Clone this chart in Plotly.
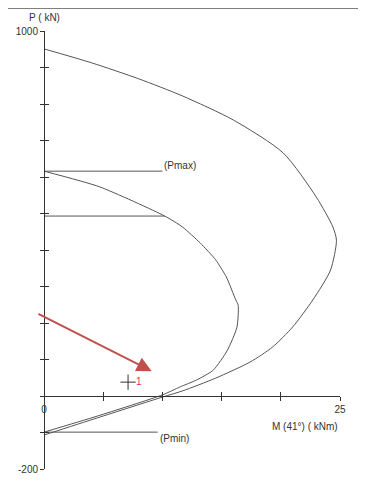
import plotly.graph_objects as go

# interaction diagram, M in kNm, P in kN
outer_m = [0, 4, 8, 11.7, 16, 20.2, 23, 24.4, 24.7, 24.2, 22.7, 21, 19.3, 17.4, 14.5, 11.7, 10, 4.5, 0]
outer_p = [951, 913, 869, 822, 756, 666, 545, 463, 427, 345, 263, 189, 134, 93, 49, 14, -3, -60, -107]

inner_m = [0, 4.7, 10.2, 11.7, 13.2, 14.5, 15.4, 16.2, 16.4, 16.3, 15.5, 14.3, 12.9, 11.5, 10, 4.5, 0]
inner_p = [616, 573, 493, 463, 419, 373, 326, 263, 249, 189, 126, 71, 44, 25, 3, -55, -99]

# horizontal limit lines: (level, end moment, label)
limit_p = [616, 493, -99]
limit_m = [10.0, 10.2, 9.6]
limit_lbl = ["(Pmax)", "", "(Pmin)"]
limit_shift = [6, 0, -6]

# load point
load_m = [7.1]
load_p = [38]
load_lbl = ["1"]

# arrow pointing at the load point
arrow_tail = (-0.6, 227)
arrow_head = (9.1, 68)

x_ticks = [0, 5, 10, 15, 20, 25]
x_text = ["0", "", "", "", "", "25"]
y_ticks = list(range(-200, 1001, 100))
y_text = ["-200"] + [""] * 11 + ["1000"]

LINE = "#555555"
AXIS = "#333333"
FONT = "Liberation Sans, Arial, sans-serif"

fig = go.Figure()

fig.add_trace(go.Scatter(x=outer_m, y=outer_p, mode="lines",
                         line=dict(color=LINE, width=1, shape="spline", smoothing=0.7),
                         showlegend=False))
fig.add_trace(go.Scatter(x=inner_m, y=inner_p, mode="lines",
                         line=dict(color=LINE, width=1, shape="spline", smoothing=0.6),
                         showlegend=False))

for p, m, lbl, sh in zip(limit_p, limit_m, limit_lbl, limit_shift):
    fig.add_trace(go.Scatter(x=[0, m], y=[p, p], mode="lines",
                             line=dict(color=LINE, width=1), showlegend=False))
    if lbl:
        fig.add_annotation(x=m, y=p, text=lbl, showarrow=False, xanchor="left",
                           yanchor="middle", yshift=sh, font=dict(size=10, color=AXIS))

fig.add_trace(go.Scatter(x=load_m, y=load_p, mode="markers+text", text=load_lbl,
                         textposition="middle right",
                         textfont=dict(size=10, color="#e0305a"),
                         marker=dict(symbol="cross-thin", size=11,
                                     line=dict(color=AXIS, width=1)),
                         showlegend=False))

# dummy trace so the overlay axes (inner half of the crossing ticks) get drawn
fig.add_trace(go.Scatter(x=[None], y=[None], xaxis="x2", yaxis="y2", showlegend=False))

fig.add_annotation(x=arrow_head[0], y=arrow_head[1], ax=arrow_tail[0], ay=arrow_tail[1],
                   xref="x", yref="y", axref="x", ayref="y", text="",
                   showarrow=True, arrowhead=2, arrowsize=1.5, arrowwidth=2,
                   arrowcolor="#c0504d")

fig.add_annotation(x=0, y=1000, text="P ( kN)", showarrow=False, xanchor="center",
                   yanchor="bottom", yshift=6, font=dict(size=10, color=AXIS))
fig.add_annotation(x=25, y=0, text="M (41°) ( kNm)", showarrow=False, xanchor="right",
                   yanchor="middle", yshift=-30, font=dict(size=10, color=AXIS))

# rule across the top of the page
fig.add_shape(type="line", xref="paper", yref="paper", x0=-0.125, x1=1.07,
              y0=1.0525, y1=1.0525, line=dict(color="#555555", width=1.5))

y0_frac = 200 / 1200

# page body has an 8px margin, so the figure is 16px smaller than the window
fig.update_layout(
    width=350,
    height=483,
    margin=dict(l=36, r=18, t=23, b=22),
    paper_bgcolor="white",
    plot_bgcolor="white",
    font=dict(family=FONT, size=10, color=AXIS),
    xaxis=dict(range=[0, 25], anchor="free", position=y0_frac, showline=True,
               linecolor=AXIS, linewidth=1, ticks="outside", ticklen=4,
               tickcolor=AXIS, tickvals=x_ticks, ticktext=x_text, automargin=False,
               showgrid=False, zeroline=False, tickfont=dict(size=10)),
    yaxis=dict(range=[-200, 1000], anchor="free", position=0, showline=True,
               linecolor=AXIS, linewidth=1, ticks="outside", ticklen=4,
               tickcolor=AXIS, tickvals=y_ticks, ticktext=y_text, automargin=False,
               showgrid=False, zeroline=False, tickfont=dict(size=10)),
    xaxis2=dict(overlaying="x", matches="x", anchor="free", position=y0_frac,
                ticks="inside", ticklen=4, tickcolor=AXIS, tickvals=x_ticks,
                automargin=False,
                showticklabels=False, showline=False, showgrid=False, zeroline=False),
    yaxis2=dict(overlaying="y", matches="y", anchor="free", position=0,
                ticks="inside", ticklen=4, tickcolor=AXIS, tickvals=y_ticks,
                automargin=False,
                showticklabels=False, showline=False, showgrid=False, zeroline=False),
)

fig.write_html("out.html")
